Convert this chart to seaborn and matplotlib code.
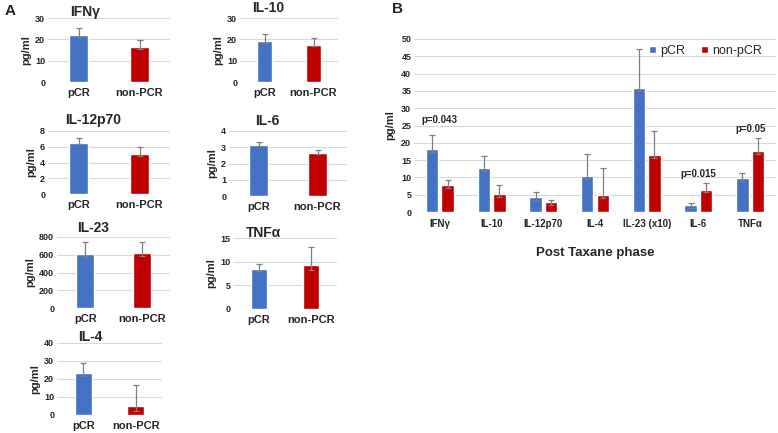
import numpy as np
import pandas as pd
import matplotlib.pyplot as plt
import seaborn as sns

# Panel A data: mean, upper error, lower error (pCR, non-PCR)
groups_a = ['pCR', 'non-PCR']
ifng = [22.0, 16.3]
ifng_up = [3.5, 3.5]
il10 = [19.2, 17.5]
il10_up = [3.3, 3.2]
il12 = [6.5, 5.1]
il12_up = [0.65, 0.9]
il6 = [3.12, 2.65]
il6_up = [0.2, 0.2]
il23 = [608, 616]
il23_up = [140, 132]
tnfa = [8.4, 9.2]
tnfa_up = [1.1, 3.9]
il4 = [23.1, 5.0]
il4_up = [5.6, 11.6]

# Panel B data (post taxane phase)
cytokines_b = ['IFNγ', 'IL-10', 'IL-12p70', 'IL-4', 'IL-23 (x10)', 'IL-6', 'TNFα']
pcr_b = [18.2, 12.6, 4.2, 10.3, 35.8, 2.05, 9.75]
pcr_b_up = [4.1, 3.6, 1.6, 6.6, 11.2, 0.55, 1.45]
non_b = [7.7, 5.1, 2.9, 4.8, 16.5, 6.5, 17.6]
non_b_up = [1.6, 2.8, 0.6, 7.9, 7.0, 1.9, 3.9]
pvals = [('p=0.043', 0, 26.5), ('p=0.015', 5, 11.0), ('p=0.05', 6, 24.0)]

BLUE = '#4472C4'
RED = '#C00000'
GRID = '#D9D9D9'

sns.set_style('white')
plt.rcParams['font.family'] = ['Liberation Sans', 'DejaVu Sans']
plt.rcParams['font.weight'] = 'bold'

W, H = 778, 433
fig = plt.figure(figsize=(W / 100, H / 100), dpi=100)


def px_axes(x0, y0, x1, y1):
    return fig.add_axes([x0 / W, 1 - y1 / H, (x1 - x0) / W, (y1 - y0) / H])


def style_axes(ax, ymax, step, tick_size):
    ax.set_ylim(0, ymax)
    ax.set_yticks(np.arange(0, ymax + step / 2, step))
    ax.yaxis.grid(True, color=GRID, linewidth=0.8)
    ax.set_axisbelow(True)
    for s in ax.spines.values():
        s.set_visible(False)
    ax.tick_params(axis='both', length=0, labelsize=tick_size, pad=2)
    for lab in ax.get_yticklabels() + ax.get_xticklabels():
        lab.set_fontweight('bold')


def err_bars(ax, vals, ups, lows):
    for patch, v, u, l in zip(ax.patches, vals, ups, lows):
        xc = patch.get_x() + patch.get_width() / 2
        ax.errorbar(xc, v, yerr=[[l], [u]], fmt='none', ecolor='#7F7F7F',
                    elinewidth=0.9, capsize=2, capthick=0.9, zorder=5)


panels = [
    ('IFNγ', ifng, ifng_up, 30, 10, (48, 18, 170, 82), (85, 12)),
    ('IL-10', il10, il10_up, 30, 10, (240, 18, 338, 82), (268, 8)),
    ('IL-12p70', il12, il12_up, 8, 2, (48, 131, 170, 194), (93, 120)),
    ('IL-6', il6, il6_up, 4, 1, (229, 131, 347, 196), (267, 121)),
    ('IL-23', il23, il23_up, 800, 200, (57, 237, 170, 308), (93, 228)),
    ('TNFα', tnfa, tnfa_up, 15, 5, (233, 238, 337, 309), (263, 233)),
    ('IL-4', il4, il4_up, 40, 10, (57, 343, 162, 415), (90, 337)),
]

for title, vals, ups, ymax, step, box, tpos in panels:
    ax = px_axes(*box)
    df = pd.DataFrame({'group': groups_a, 'value': vals})
    sns.barplot(data=df, x='group', y='value', hue='group',
                palette=[BLUE, RED], width=0.32, errorbar=None,
                legend=False, ax=ax, saturation=1)
    ax.set_xlim(-0.5, 1.5)
    style_axes(ax, ymax, step, 6.5)
    lows = [u * 0.25 for u in ups]
    err_bars(ax, vals, ups, lows)
    ax.tick_params(axis='x', labelsize=8, pad=4)
    ax.set_xlabel('')
    ax.set_ylabel('pg/ml', fontsize=8, fontweight='bold', labelpad=3)
    fig.text(tpos[0] / W, 1 - tpos[1] / H, title, ha='center', va='center',
             fontsize=10, fontweight='bold')

fig.text(5 / W, 1 - 11 / H, 'A', fontsize=11, fontweight='bold', va='center')
fig.text(392 / W, 1 - 9 / H, 'B', fontsize=11, fontweight='bold', va='center')

# Panel B
axb = px_axes(414, 39, 776, 212)
dfb = pd.DataFrame({
    'cytokine': cytokines_b * 2,
    'value': pcr_b + non_b,
    'group': ['pCR'] * len(cytokines_b) + ['non-pCR'] * len(cytokines_b),
})
sns.barplot(data=dfb, x='cytokine', y='value', hue='group',
            palette=[BLUE, RED], width=0.6, gap=0.2, errorbar=None,
            ax=axb, saturation=1)
axb.set_xlim(-0.5, len(cytokines_b) - 0.5)
style_axes(axb, 50, 5, 6.5)
bars = axb.patches[:2 * len(cytokines_b)]
all_vals = pcr_b + non_b
all_up = pcr_b_up + non_b_up
all_low = [0.8] * len(all_vals)
for patch, v, u, l in zip(bars, all_vals, all_up, all_low):
    xc = patch.get_x() + patch.get_width() / 2
    axb.errorbar(xc, v, yerr=[[l], [u]], fmt='none', ecolor='#7F7F7F',
                 elinewidth=0.9, capsize=2, capthick=0.9, zorder=5)
axb.tick_params(axis='x', labelsize=7, pad=5)
axb.set_xlabel('Post Taxane phase', fontsize=9.5, fontweight='bold', labelpad=13)
axb.set_ylabel('pg/ml', fontsize=8, fontweight='bold', labelpad=4)
for txt, i, y in pvals:
    axb.text(i, y, txt, ha='center', va='center', fontsize=7, fontweight='bold')
leg = axb.legend(loc='upper right', bbox_to_anchor=(0.985, 1.015), ncol=2,
                 frameon=False, fontsize=9, handlelength=0.55, handleheight=0.55,
                 handletextpad=0.3, columnspacing=1.3, borderaxespad=0.3)
for t in leg.get_texts():
    t.set_fontweight('normal')

fig.savefig('out.png', dpi=100)
